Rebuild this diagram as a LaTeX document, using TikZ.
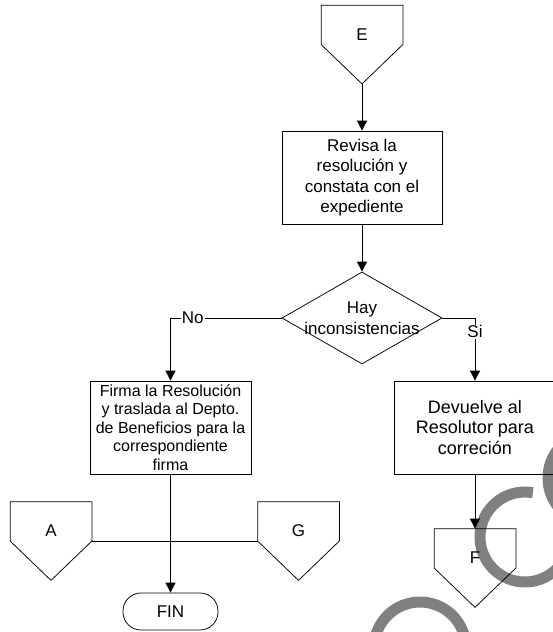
\documentclass[tikz,border=0pt]{standalone}
\usepackage{fontspec}
\setmainfont{Liberation Sans}
\usetikzlibrary{arrows.meta,shapes.geometric}
\tikzset{
	proc/.style={rectangle, draw, minimum width=160pt, minimum height=93pt, inner sep=2pt, align=center},
	decis/.style={diamond, draw, minimum width=160pt, minimum height=92pt, inner sep=0pt},
	offpage/.style={minimum width=81pt, minimum height=78pt, inner sep=0pt, text depth=20pt},
	term/.style={rectangle, draw, rounded corners=18pt, minimum width=95pt, minimum height=37pt},
	lbl/.style={fill=white, inner sep=1pt}
}
\begin{document}
\begin{tikzpicture}[x=1pt, y=-1pt, line width=0.75pt, >={Triangle[length=10pt,width=10pt]}, font=\fontsize{17}{20.5}\selectfont]
	\useasboundingbox (0,0) rectangle (552,632);
	\begin{scope}[draw=gray, line width=11pt]
		\draw (525,537) ++(280:45) arc (280:40:45);
		\draw (594,478) ++(140:46) arc (140:220:46);
		\draw (420,648) ++(170:46) arc (170:370:46);
	\end{scope}
	\node (E) at (362,44.5)	[offpage]	{E};
	\node (revisa) at (362,177.5)	[proc]	{Revisa la\\resolución y\\constata con el\\expediente};
	\node (hay) at (362,318)	[decis, label={[align=center]center:Hay\\inconsistencias}]	{};
	\node (firma) at (170.5,427.5)	[proc, minimum width=161pt, font=\fontsize{16}{18.5}\selectfont]	{Firma la Resolución\\y traslada al Depto.\\de Beneficios para la\\correspondiente\\firma};
	\node (devuelve) at (475,427.5)	[proc, minimum width=162pt, font=\fontsize{18}{20.5}\selectfont]	{Devuelve al\\Resolutor para\\correción};
	\node (A) at (51,541)	[offpage]	{A};
	\node (G) at (298.5,541)	[offpage]	{G};
	\node (F) at (475,568)	[offpage]	{F};
	\node (fin) at (170.5,611.5)	[term]	{FIN};
	\foreach \n in {E,A,G,F}
		\draw (\n.north west) -- (\n.north east) -- (\n.east) -- (\n.south) -- (\n.west) -- cycle;
	\draw[->] (E.south) -- (revisa);
	\draw[->] (revisa) -- (hay);
	\draw[->] (hay.west) -| node[lbl, pos=0.4] {No} (firma.north);
	\draw[->] (hay.east) -| node[lbl, pos=0.61] {Si} (devuelve.north);
	\draw[->] (firma) -- (fin);
	\draw (A.east) -- (G.west);
	\draw[->] (devuelve) -- (F);
\end{tikzpicture}
\end{document}
